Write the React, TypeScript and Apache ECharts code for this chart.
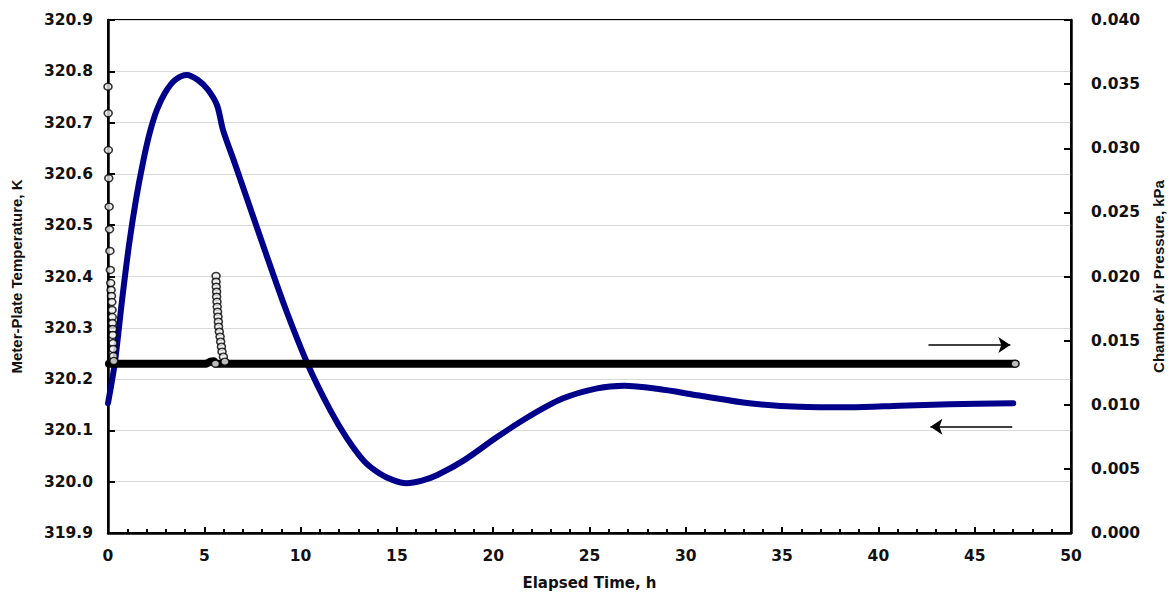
import React, { useEffect, useRef } from "react";
import * as echarts from "echarts";

// Elapsed time (h) and meter-plate temperature (K)
const tempTime = [
  0.0, 0.36, 0.73, 1.09, 1.45, 1.82, 2.18, 2.54, 2.96, 3.48, 4.1, 4.67, 5.19, 5.66,
  5.97, 6.59, 7.37, 8.15, 9.19, 10.38, 11.53, 12.4, 13.3, 14.1, 14.8, 15.5, 16.3, 17.1,
  18.5, 20.2, 21.9, 23.6, 25.4, 26.8, 28.5, 30.7, 33.3, 35.9, 38.5, 41.1, 43.7, 47.0,
];
const tempValues = [
  320.153, 320.233, 320.354, 320.461, 320.549, 320.623, 320.682, 320.725, 320.758,
  320.783, 320.793, 320.783, 320.764, 320.734, 320.686, 320.62, 320.535, 320.45,
  320.34, 320.228, 320.14, 320.085, 320.04, 320.016, 320.003, 319.997, 320.002, 320.013,
  320.042, 320.087, 320.128, 320.162, 320.182, 320.187, 320.181, 320.168, 320.153,
  320.146, 320.145, 320.148, 320.151, 320.153,
];

// Chamber air pressure (kPa): steady baseline
const baseTime = [0.05, 5.1, 5.3, 5.5, 5.58, 6.1, 47.1];
const baseValues = [0.0132, 0.0132, 0.01335, 0.0134, 0.0132, 0.0132, 0.0132];

// Chamber air pressure (kPa): individual readings (start transient, spike, end)
const pointTime = [
  0.0, 0.01, 0.02, 0.04, 0.06, 0.08, 0.1, 0.12, 0.14, 0.16, 0.18, 0.2, 0.21, 0.22, 0.23,
  0.24, 0.25, 0.26, 0.27, 0.28, 0.3,
  5.58, 5.61, 5.61, 5.62, 5.64, 5.64, 5.66, 5.67, 5.69, 5.71, 5.73, 5.74, 5.78, 5.82,
  5.85, 5.89, 5.92, 5.99, 6.07,
  47.1,
];
const pointValues = [
  0.0348, 0.03273, 0.02986, 0.02766, 0.02544, 0.02368, 0.02199, 0.02051, 0.01949,
  0.01895, 0.01848, 0.01801, 0.01739, 0.01684, 0.01637, 0.01591, 0.01544, 0.01481,
  0.01435, 0.0138, 0.01341,
  0.0132, 0.02004, 0.01959, 0.0192, 0.01881, 0.01842, 0.01803, 0.01764, 0.01725,
  0.01687, 0.01648, 0.01609, 0.0157, 0.01531, 0.01492, 0.01453, 0.01414, 0.01375,
  0.01336,
  0.0132,
];

// Direction arrows: [x0, x1, y]
const pressureArrow = [42.6, 46.85, 0.01466];
const tempArrow = [46.95, 42.7, 320.107];

const leftTicks = { min: 319.9, max: 320.9, interval: 0.1 };
const rightTicks = { min: 0, max: 0.04, interval: 0.005 };
const xTicks = { min: 0, max: 50, interval: 5 };

const LABEL_FONT = "'DejaVu Sans', 'Liberation Sans', Arial, sans-serif";
const NAME_FONT = "'Liberation Sans', Arial, sans-serif";

export default function App() {
  const ref = useRef<HTMLDivElement>(null);
  useEffect(() => {
    if (!ref.current) return;
    const chart = echarts.init(ref.current, undefined, { renderer: "svg" });
    const labelStyle = {
      fontFamily: LABEL_FONT,
      fontWeight: "bold" as const,
      fontSize: 15.5,
      color: "#111",
    };
    const nameStyle = {
      fontFamily: NAME_FONT,
      fontWeight: "bold" as const,
      fontSize: 15,
      color: "#111",
    };
    chart.setOption({
      animation: false,
      backgroundColor: "#fff",
      grid: {
        left: 108,
        right: 99,
        top: 20,
        bottom: 59,
        containLabel: false,
        outerBoundsMode: "none",
        show: true,
        borderColor: "#000",
        borderWidth: 2,
        backgroundColor: "transparent",
      },
      xAxis: {
        type: "value",
        min: xTicks.min,
        max: xTicks.max,
        interval: xTicks.interval,
        name: "Elapsed Time, h",
        nameLocation: "middle",
        nameGap: 42,
        nameTextStyle: { ...labelStyle, fontSize: 15 },
        axisLine: { show: true, onZero: false, lineStyle: { color: "#000", width: 2.5 } },
        axisTick: { show: true, inside: true, length: 6, lineStyle: { color: "#000", width: 2 } },
        minorTick: { show: true, splitNumber: 5, length: 4, lineStyle: { color: "#000", width: 2 } },
        axisLabel: { ...labelStyle, margin: 15 },
        splitLine: { show: false },
      },
      yAxis: [
        {
          type: "value",
          position: "left",
          min: leftTicks.min,
          max: leftTicks.max,
          interval: leftTicks.interval,
          name: "Meter-Plate Temperature, K",
          nameLocation: "middle",
          nameRotate: 90,
          nameGap: 84,
          nameTextStyle: nameStyle,
          axisLine: { show: true, onZero: false, lineStyle: { color: "#000", width: 2.5 } },
          axisTick: { show: true, inside: true, length: 7, lineStyle: { color: "#000", width: 2 } },
          axisLabel: { ...labelStyle, margin: 15, formatter: (v: number) => v.toFixed(1) },
          splitLine: { show: true, lineStyle: { color: "#d9d9d9", width: 1 } },
        },
        {
          type: "value",
          position: "right",
          min: rightTicks.min,
          max: rightTicks.max,
          interval: rightTicks.interval,
          name: "Chamber Air Pressure, kPa",
          nameLocation: "middle",
          nameRotate: 90,
          nameGap: 80,
          nameTextStyle: nameStyle,
          axisLine: { show: true, onZero: false, lineStyle: { color: "#000", width: 2.5 } },
          axisTick: { show: true, inside: true, length: 7, lineStyle: { color: "#000", width: 2 } },
          axisLabel: { ...labelStyle, margin: 20, formatter: (v: number) => v.toFixed(3) },
          splitLine: { show: false },
        },
      ],
      series: [
        {
          type: "line",
          name: "temperature",
          yAxisIndex: 0,
          data: tempTime.map((t, i) => [t, tempValues[i]]),
          smooth: 0.3,
          showSymbol: false,
          symbol: "none",
          lineStyle: { color: "#00008a", width: 6, cap: "round", join: "round" },
          z: 2,
          markLine: {
            silent: true,
            symbol: ["none", "arrow"],
            symbolSize: 12,
            label: { show: false },
            lineStyle: { color: "#000", width: 1.5, type: "solid" },
            data: [
              [
                { coord: [tempArrow[0], tempArrow[2]] },
                { coord: [tempArrow[1], tempArrow[2]] },
              ],
            ],
          },
        },
        {
          type: "line",
          name: "pressure baseline",
          yAxisIndex: 1,
          data: baseTime.map((t, i) => [t, baseValues[i]]),
          showSymbol: false,
          symbol: "none",
          lineStyle: { color: "#000", width: 8, cap: "round", join: "round" },
          z: 3,
          markLine: {
            silent: true,
            symbol: ["none", "arrow"],
            symbolSize: 12,
            label: { show: false },
            lineStyle: { color: "#000", width: 1.5, type: "solid" },
            data: [
              [
                { coord: [pressureArrow[0], pressureArrow[2]] },
                { coord: [pressureArrow[1], pressureArrow[2]] },
              ],
            ],
          },
        },
        {
          type: "scatter",
          name: "pressure",
          yAxisIndex: 1,
          data: pointTime.map((t, i) => [t, pointValues[i]]),
          symbol: "circle",
          symbolSize: [8, 7],
          itemStyle: { color: "#eeeeee", borderColor: "#000", borderWidth: 1.5 },
          z: 4,
        },
      ],
    });
    return () => chart.dispose();
  }, []);
  return (
    <div
      ref={ref}
      style={{ position: "fixed", left: 0, top: 0, width: 1170, height: 592, background: "#fff" }}
    />
  );
}
